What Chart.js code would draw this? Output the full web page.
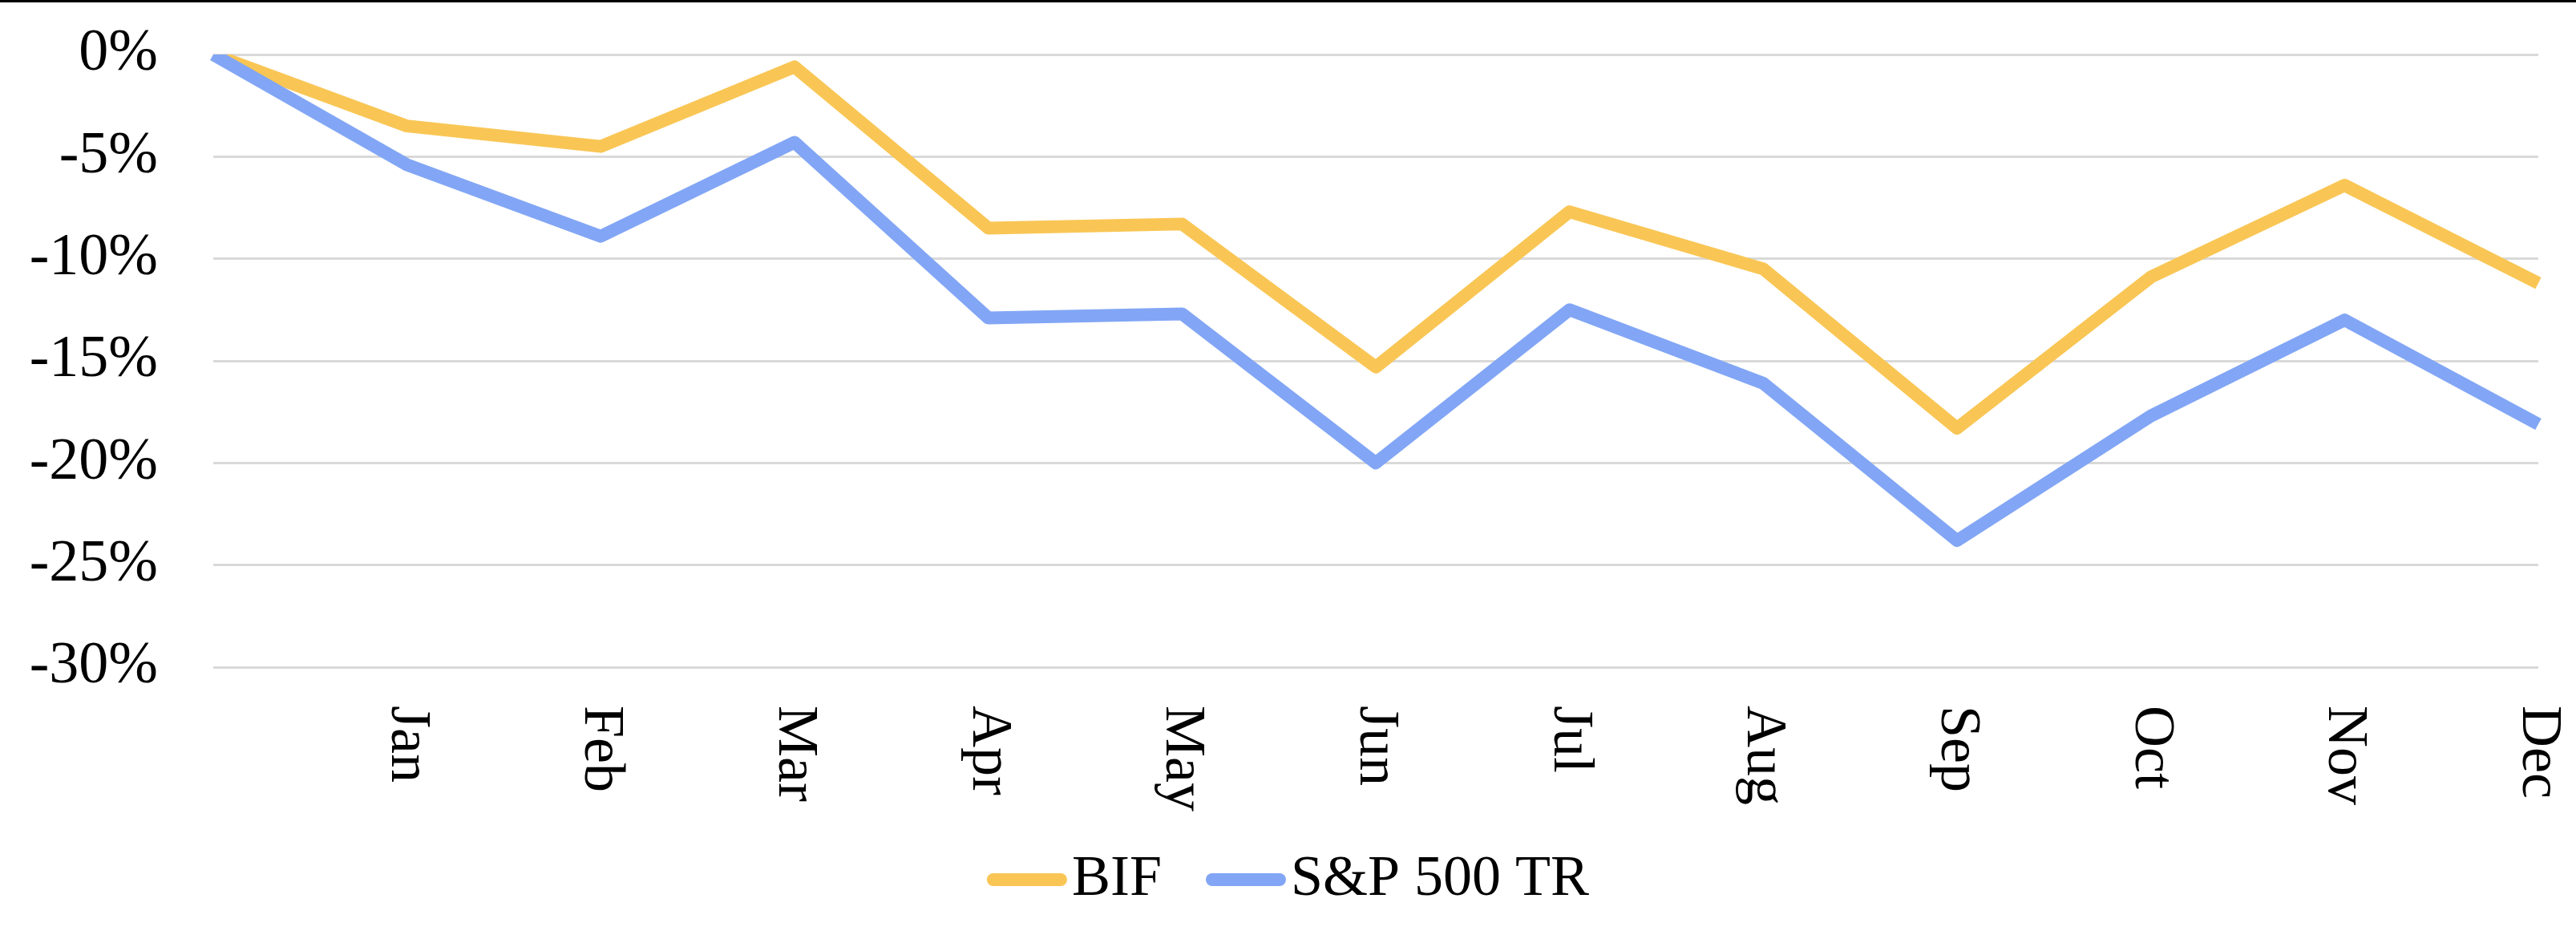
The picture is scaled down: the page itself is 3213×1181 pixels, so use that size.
<!DOCTYPE html>
<html>
<head>
<meta charset="utf-8">
<script src="https://cdn.jsdelivr.net/npm/chart.js@4.4.1/dist/chart.umd.min.js"></script>
<style>
	html, body { margin: 0; padding: 0; background: #fff; overflow: hidden; }
	canvas { display: block; }
</style>
</head>
<body>
<canvas id="chart" width="3213" height="1181"></canvas>
<script>
// first slot is the starting point (no label), then month-end values
const months = ['', 'Jan', 'Feb', 'Mar', 'Apr', 'May', 'Jun', 'Jul', 'Aug', 'Sep', 'Oct', 'Nov', 'Dec']
const bifReturns = [0, -3.5, -4.5, -0.6, -8.5, -8.3, -15.3, -7.7, -10.5, -18.3, -10.9, -6.4, -11.2]
const spxReturns = [0, -5.4, -8.9, -4.3, -12.9, -12.7, -20.0, -12.5, -16.1, -23.8, -17.7, -13.0, -18.1]
const seriesNames = ['BIF', 'S&P 500 TR']
const yMin = -30
const yMax = 0
const yStep = 5

const GOLD = '#F9C655'
const BLUE = '#82A6F5'
const FONT = '"Liberation Serif", "Times New Roman", serif'

// x labels are rotated clockwise (read top to bottom), so they are drawn here
const customText = {
	id: 'customText',
	beforeDraw(chart) {
		const ctx = chart.ctx
		ctx.save()
		ctx.fillStyle = '#fff'
		ctx.fillRect(0, 0, chart.width, chart.height)
		ctx.fillStyle = '#000'
		ctx.fillRect(0, 0, chart.width, 3)
		ctx.restore()
	},
	afterDraw(chart) {
		const ctx = chart.ctx
		const x = chart.scales.x
		ctx.save()
		ctx.fillStyle = '#000'
		ctx.font = `72px ${FONT}`
		ctx.textAlign = 'left'
		ctx.textBaseline = 'middle'
		months.forEach((m, i) => {
			if (!m) return
			ctx.save()
			ctx.translate(x.getPixelForValue(i), 880)
			ctx.rotate(Math.PI / 2)
			ctx.fillText(m, 0, 0)
			ctx.restore()
		})

		// legend
		const colors = [GOLD, BLUE]
		const boxW = 100, boxH = 16, gap = 6, itemGap = 55
		const widths = seriesNames.map(n => ctx.measureText(n).width)
		let total = 0
		widths.forEach((w, i) => { total += boxW + gap + w + (i ? itemGap : 0) })
		let lx = (chart.width - total) / 2
		const ly = 1097
		seriesNames.forEach((n, i) => {
			ctx.fillStyle = colors[i]
			ctx.beginPath()
			ctx.roundRect(lx, ly - boxH / 2, boxW, boxH, boxH / 2)
			ctx.fill()
			lx += boxW + gap
			ctx.fillStyle = '#000'
			ctx.fillText(n, lx, ly)
			lx += widths[i] + itemGap
		})
		ctx.restore()
	}
}

const config = {
	type: 'line',
	data: {
		labels: months,
		datasets: [{
			label: seriesNames[0],
			data: bifReturns,
			borderColor: GOLD,
			backgroundColor: GOLD,
			borderWidth: 16,
			pointRadius: 0,
			tension: 0,
			borderJoinStyle: 'round',
			order: 1
		}, {
			label: seriesNames[1],
			data: spxReturns,
			borderColor: BLUE,
			backgroundColor: BLUE,
			borderWidth: 16,
			pointRadius: 0,
			tension: 0,
			borderJoinStyle: 'round',
			order: 0
		}]
	},
	options: {
		responsive: false,
		animation: false,
		devicePixelRatio: 1,
		layout: { padding: { left: 0, right: 47, top: 68, bottom: 349 } },
		scales: {
			x: {
				offset: false,
				grid: { display: false },
				border: { display: false },
				ticks: { display: false },
				afterFit: (scale) => { scale.height = 0 }
			},
			y: {
				min: yMin,
				max: yMax,
				grid: { color: '#D9D9D9', lineWidth: 3, drawTicks: false },
				border: { display: false },
				ticks: {
					stepSize: yStep,
					padding: 69,
					color: '#000',
					font: { family: FONT, size: 74 },
					callback: v => v + '%'
				},
				afterFit: (scale) => {
					scale.width = 266
					// tick padding would otherwise also push the plot down
					scale.paddingTop = 0
					scale.paddingBottom = 0
				}
			}
		},
		plugins: {
			legend: { display: false },
			tooltip: { enabled: false }
		}
	},
	plugins: [customText]
}

new Chart(document.getElementById('chart'), config)
</script>
</body>
</html>
